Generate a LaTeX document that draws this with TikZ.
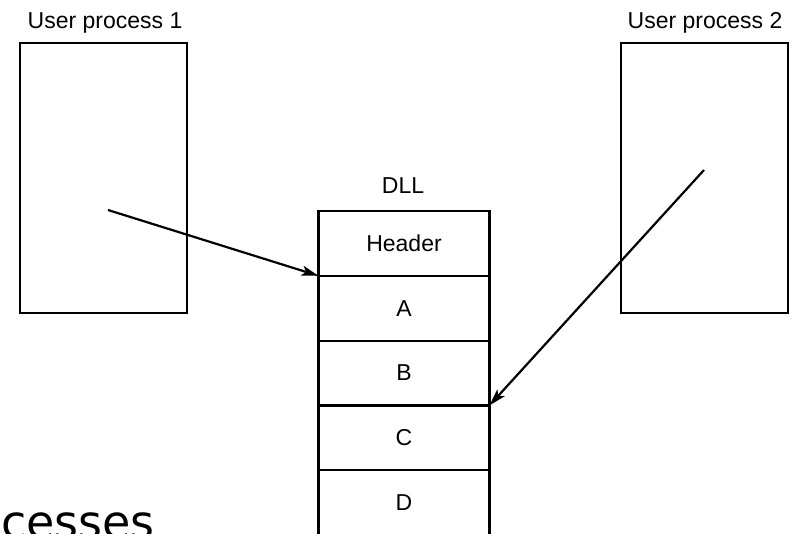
\documentclass[tikz,border=0pt]{standalone}
\usepackage{fontspec}
\setmainfont{Liberation Sans}
\newfontfamily\bigfont{DejaVu Sans}
\usetikzlibrary{arrows.meta}
\begin{document}
\begin{tikzpicture}[x=1pt,y=-1pt, line width=2.2pt,
  procbox/.style={draw, minimum width=167pt, minimum height=270pt, inner sep=0pt, outer sep=0pt},
  dllrow/.style={draw, minimum width=171pt, minimum height=64.8pt, inner sep=0pt, outer sep=0pt, font=\fontsize{23}{27}\selectfont},
  lbl/.style={font=\fontsize{23}{27}\selectfont, inner sep=0pt, anchor=base},
  ptr/.style={-{Stealth[length=17pt,width=10pt,inset=4pt]}, line width=2.2pt}]
\useasboundingbox (0,0) rectangle (792,533);
% user processes
\node[procbox] (p1) at (103.5,178) {};
\node[procbox] (p2) at (704.5,178) {};
\node[lbl] (l1) at (105,28) {User process 1};
\node[lbl] (l2) at (705,28) {User process 2};
% DLL
\node[lbl] (ldll) at (403,193) {DLL};
\node[dllrow, anchor=north] (hdr) at (404,211) {Header};
\node[dllrow, anchor=north] (A) at (hdr.south) {A};
\node[dllrow, anchor=north] (B) at (A.south) {B};
\node[dllrow, anchor=north] (C) at (B.south) {C};
\node[dllrow, anchor=north] (D) at (C.south) {D};
% pointers
\coordinate (s1) at (108,210);
\coordinate (s2) at (704,170);
\draw[ptr] (s1) -- (hdr.south west);
\draw[ptr] (s2) -- (C.north east);
% cut-off fragment
\node[font=\bigfont\fontsize{46}{50}\selectfont, anchor=base west, inner sep=0pt] (frag) at (0,538) {cesses};
\end{tikzpicture}
\end{document}
